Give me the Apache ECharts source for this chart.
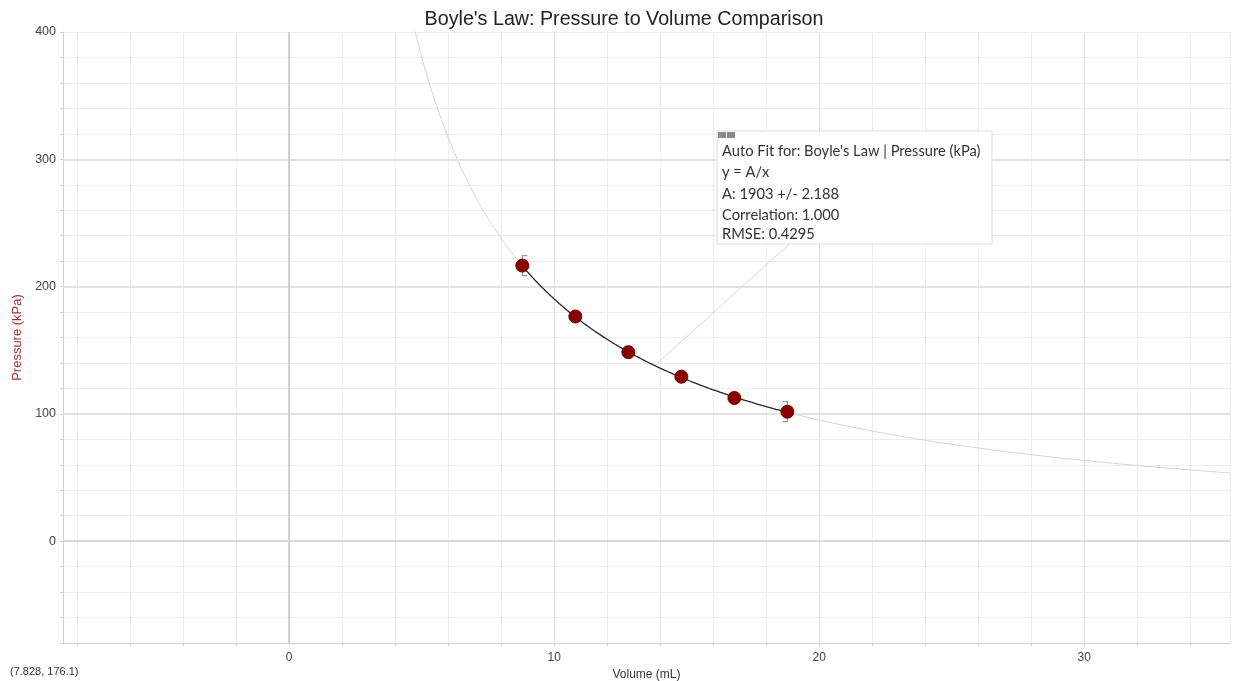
<!DOCTYPE html>
<html>
<head>
<meta charset="utf-8">
<script src="https://cdn.jsdelivr.net/npm/echarts@6/dist/echarts.min.js"></script>
<style>html,body{margin:0;padding:0;background:#fff}#c{width:1233px;height:681px}</style>
</head>
<body>
<div id="c"></div>
<script>
// ---- data ----
const volume = [8.8, 10.8, 12.8, 14.8, 16.8, 18.8];
const pressure = [216.5, 176.5, 148.5, 129.2, 112.5, 101.7];
// fit parameter printed in the chart (y = A/x)
const FIT_A = 1903;
const fitInfo = [
  "Auto Fit for: Boyle's Law | Pressure (kPa)",
  "y = A/x",
  "A: 1903 +/- 2.188",
  "Correlation: 1.000",
  "RMSE: 0.4295"
];
const cursorText = "(7.828, 176.1)";
const majorX = [10, 20, 30];
const majorY = [100, 200, 300];
const leader = [[13.85, 139], [18.9, 234]];
const X_MIN = -8.53, X_MAX = 35.5, Y_MIN = -80, Y_MAX = 400;

// fit curve sampled along x
const fullCurve = [];
for (let x = 4.5; x <= X_MAX + 0.001; x += 0.05) fullCurve.push([x, FIT_A / x]);
const fitCurve = [];
for (let x = volume[0]; x <= volume[volume.length - 1] + 0.001; x += 0.05) fitCurve.push([x, FIT_A / x]);

const points = volume.map((v, i) => [v, pressure[i]]);
const brackets = [[volume[0], pressure[0], -1], [volume[volume.length - 1], pressure[pressure.length - 1], 1]];

const chart = echarts.init(document.getElementById('c'), null, {renderer: 'canvas'});
const FF = '"Liberation Sans", Arial, sans-serif';

const majorLines = [];
majorX.forEach(v => majorLines.push({xAxis: v, lineStyle: {color: '#dedede', width: 1, type: 'solid'}}));
majorY.forEach(v => majorLines.push({yAxis: v, lineStyle: {color: '#e2e2e2', width: 2, type: 'solid'}}));
majorLines.push({xAxis: 0, lineStyle: {color: '#c4c4c4', width: 1.5, type: 'solid'}});
majorLines.push({yAxis: 0, lineStyle: {color: '#d9d9d9', width: 2, type: 'solid'}});

const BOX_Z = 100;
const option = {
  backgroundColor: '#fff',
  animation: false,
  grid: {left: 63, right: 3, top: 32, bottom: 38, containLabel: false, outerBoundsMode: 'none'},
  xAxis: {
    type: 'value', min: X_MIN, max: X_MAX, minInterval: 2, maxInterval: 2, splitNumber: 22,
    name: 'Volume (mL)', nameLocation: 'middle', nameGap: 25,
    nameTextStyle: {color: '#333', fontSize: 12, fontFamily: FF},
    axisLine: {show: true, onZero: false, lineStyle: {color: '#cfcfcf'}},
    axisTick: {show: true, length: 3, lineStyle: {color: '#cfcfcf'}},
    axisLabel: {
      color: '#444', fontSize: 12, fontFamily: FF, margin: 9,
      showMinLabel: false, showMaxLabel: false,
      formatter: v => (Math.abs(v % 10) < 1e-6 ? String(Math.round(v)) : '')
    },
    splitLine: {show: true, lineStyle: {color: '#ededed', width: 1}}
  },
  yAxis: {
    type: 'value', min: Y_MIN, max: Y_MAX, interval: 20,
    name: 'Pressure (kPa)', nameLocation: 'middle', nameGap: 38, nameRotate: 90,
    nameTextStyle: {color: '#a3353a', fontSize: 13, fontFamily: FF},
    axisLine: {show: true, onZero: false, lineStyle: {color: '#cfcfcf'}},
    axisTick: {show: true, length: 3, lineStyle: {color: '#cfcfcf'}},
    axisLabel: {
      color: '#444', fontSize: 12.5, fontFamily: FF, margin: 7,
      formatter: v => (Math.abs(v % 100) < 1e-6 ? String(Math.round(v)) : '')
    },
    splitLine: {show: true, lineStyle: {color: '#ededed', width: 1}}
  },
  series: [
    {
      name: 'grid-major', type: 'line', data: [], silent: true,
      markLine: {silent: true, symbol: 'none', label: {show: false}, animation: false, data: majorLines}
    },
    {
      name: 'fit-full', type: 'line', data: fullCurve, showSymbol: false, symbol: 'none', silent: true,
      lineStyle: {color: '#d4d4d4', width: 1}, z: 3,
      markLine: {
        silent: true, symbol: 'none', label: {show: false},
        lineStyle: {color: '#d6d6d6', width: 1, type: 'solid'},
        data: [[{coord: leader[0]}, {coord: leader[1]}]]
      }
    },
    {
      name: 'fit', type: 'line', data: fitCurve, showSymbol: false, symbol: 'none', silent: true,
      lineStyle: {color: '#2a2a2a', width: 1.3}, z: 5
    },
    {
      name: 'range', type: 'custom', data: brackets, silent: true, z: 4,
      renderItem: (params, api) => {
        const p = api.coord([api.value(0), api.value(1)]);
        const dir = api.value(2) < 0 ? 1 : -1;
        const h = 10, w = 5;
        return {
          type: 'polyline',
          shape: {points: [[p[0] + dir * w, p[1] - h], [p[0], p[1] - h], [p[0], p[1] + h], [p[0] + dir * w, p[1] + h]]},
          style: {stroke: '#999999', fill: null, lineWidth: 1.2}
        };
      }
    },
    {
      name: 'Pressure (kPa)', type: 'scatter', data: points, symbol: 'circle', symbolSize: 13, z: 6,
      itemStyle: {color: '#8b0000', borderColor: '#6e0000', borderWidth: 1, opacity: 1}
    }
  ],
  graphic: [
    {
      type: 'text', x: 624, y: 20, z: BOX_Z,
      style: {text: "Boyle's Law: Pressure to Volume Comparison", font: '19.7px ' + FF, fill: '#222', textAlign: 'center', textVerticalAlign: 'middle'}
    },
    {
      type: 'text', x: 10, y: 672, z: BOX_Z,
      style: {text: cursorText, font: '11px ' + FF, fill: '#333', textAlign: 'left', textVerticalAlign: 'middle'}
    },
    {type: 'rect', x: 717, y: 131, z: BOX_Z, shape: {x: 0, y: 0, width: 275, height: 113}, style: {fill: '#ffffff', stroke: '#dcdcdc', lineWidth: 1}},
    {type: 'rect', x: 718, y: 132, z: BOX_Z + 1, shape: {x: 0, y: 0, width: 8, height: 6}, style: {fill: '#8a8a8a'}},
    {type: 'rect', x: 727, y: 132, z: BOX_Z + 1, shape: {x: 0, y: 0, width: 8, height: 6}, style: {fill: '#8a8a8a'}}
  ].concat(fitInfo.map((t, i) => ({
    type: 'text', x: 722, y: 131 + [20, 41, 63, 84, 103][i], z: BOX_Z + 2,
    style: {text: t, font: '14.7px Lato, "Open Sans", sans-serif', fill: '#333', textAlign: 'left', textVerticalAlign: 'middle'}
  })))
};
chart.setOption(option);
</script>
</body>
</html>
